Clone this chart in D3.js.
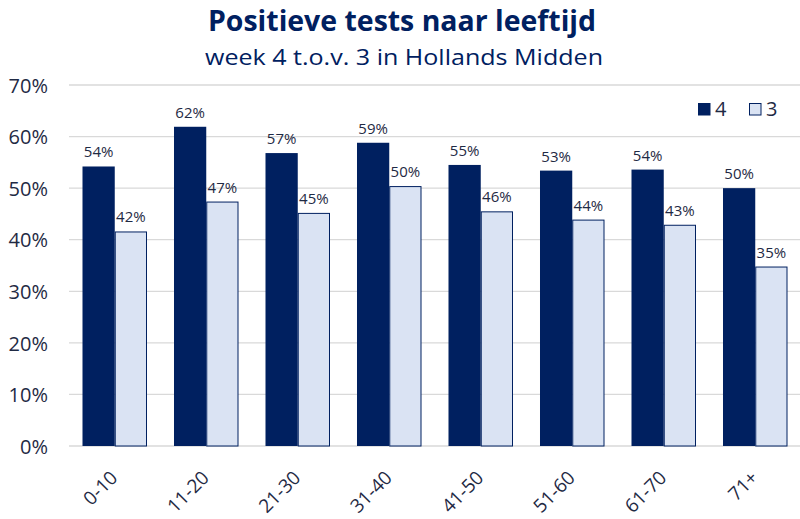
<!DOCTYPE html>
<html><head><meta charset="utf-8">
<script src="https://cdn.jsdelivr.net/npm/d3@7"></script>
<style>body{margin:0;background:#fff}svg{display:block}</style>
</head><body>
<svg id="c" width="800" height="519"></svg>
<script>
const categories = ["0-10","11-20","21-30","31-40","41-50","51-60","61-70","71+"];
const seriesNames = ["4","3"];
const week4 = [54.2, 61.9, 56.8, 58.8, 54.5, 53.4, 53.6, 50.0];
const week3 = [41.6, 47.4, 45.2, 50.4, 45.5, 43.9, 42.9, 34.8];
const yTicks = [0,10,20,30,40,50,60,70];

const navy = "#002060", light = "#dae3f3", txt = "#1f2a44";
const svg = d3.select("#c");
const m = {l:69, r:801, t:85, b:446};

const x = d3.scaleBand().domain(categories).range([m.l, m.r]).paddingInner(0.295).paddingOuter(0.1475);
const xs = d3.scaleBand().domain(seriesNames).range([0, x.bandwidth()]);
const y = d3.scaleLinear().domain([0,70]).range([m.b, m.t]);

// gridlines
svg.append("g").selectAll("line").data(yTicks).join("line")
  .attr("x1", m.l).attr("x2", 800)
  .attr("y1", d=>y(d)).attr("y2", d=>y(d))
  .attr("stroke", "#d9d9d9").attr("stroke-width", 1.3);

// y axis labels
const yAxis = d3.axisLeft(y).tickValues(yTicks).tickFormat(d=>d+"%").tickSize(0).tickPadding(0);
const ya = svg.append("g").attr("transform", "translate(48,0)").call(yAxis);
ya.select(".domain").remove();
ya.selectAll("text").attr("font-family","Open Sans").attr("font-size",20).attr("fill",txt).attr("dy","0.36em");

// x axis labels
const xa = svg.append("g").attr("transform", `translate(0,${m.b})`).call(d3.axisBottom(x).tickSize(0));
xa.select(".domain").remove();
xa.selectAll("text")
  .attr("font-family","Open Sans").attr("font-size",19).attr("fill",txt)
  .attr("text-anchor","end").attr("dy",0).attr("y",0).attr("x",0)
  .attr("transform","translate(4,33) rotate(-45)");

const data = categories.map((c,i)=>({c, vals:[{s:"4",v:week4[i]},{s:"3",v:week3[i]}]}));
const g = svg.append("g").selectAll("g").data(data).join("g")
  .attr("transform", d=>`translate(${x(d.c)},0)`);
g.selectAll("rect").data(d=>d.vals).join("rect")
  .attr("x", d=>xs(d.s) + (d.s==="3"?0.5:0))
  .attr("width", d=>xs.bandwidth() - (d.s==="3"?1:0))
  .attr("y", d=>y(d.v) + (d.s==="3"?0.5:0))
  .attr("height", d=>m.b - y(d.v) - (d.s==="3"?0.5:0))
  .attr("fill", d=>d.s==="4"?navy:light)
  .attr("stroke", d=>d.s==="3"?navy:"none").attr("stroke-width",1);
g.selectAll("text").data(d=>d.vals).join("text")
  .attr("x", d=>xs(d.s)+xs.bandwidth()/2)
  .attr("y", d=>y(d.v)-9)
  .attr("text-anchor","middle")
  .attr("font-family","Open Sans").attr("font-size",15).attr("fill",txt)
  .text(d=>Math.round(d.v)+"%");

// legend
const lg = svg.append("g");
const legendX = [698, 749];
seriesNames.forEach((s,i)=>{
  lg.append("rect").attr("x",legendX[i]+0.5).attr("y",103.5).attr("width",11.5).attr("height",11.5)
    .attr("fill", s==="4"?navy:light).attr("stroke", navy).attr("stroke-width",1);
  lg.append("text").attr("x",legendX[i]+17).attr("y",116).attr("font-family","Open Sans")
    .attr("font-size",20).attr("fill",txt).text(s);
});

// titles
svg.append("text").attr("x",402).attr("y",31).attr("text-anchor","middle")
  .attr("font-family","Open Sans").attr("font-weight","bold").attr("font-size",28).attr("fill",navy)
  .attr("textLength",388).attr("lengthAdjust","spacingAndGlyphs")
  .text("Positieve tests naar leeftijd");
svg.append("text").attr("x",404).attr("y",65).attr("text-anchor","middle")
  .attr("font-family","Open Sans").attr("font-size",22).attr("fill",navy)
  .attr("textLength",398).attr("lengthAdjust","spacingAndGlyphs")
  .text("week 4 t.o.v. 3 in Hollands Midden");
</script>
</body></html>
